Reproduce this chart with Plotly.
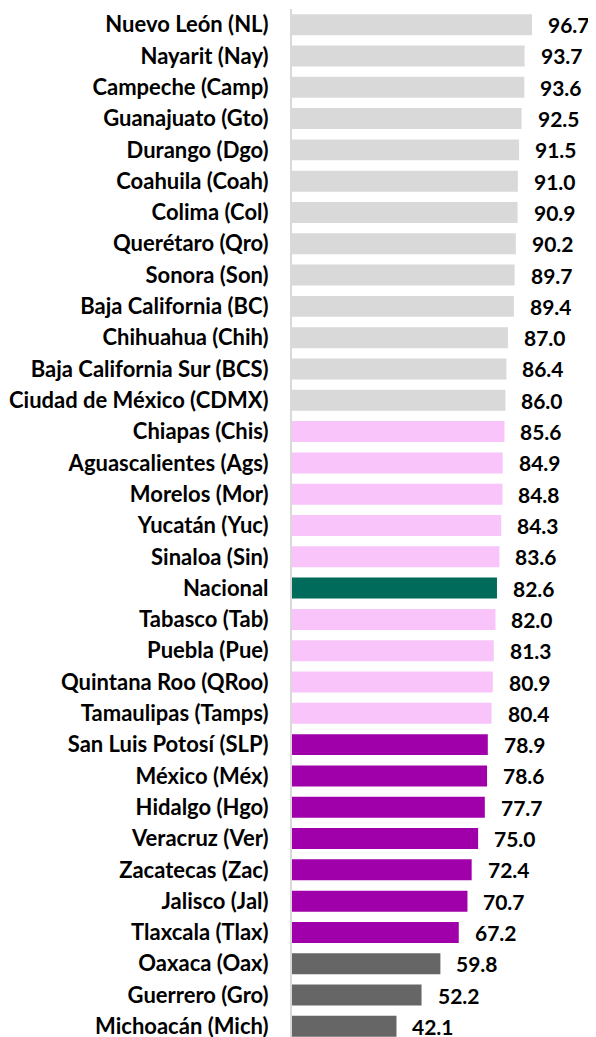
import plotly.graph_objects as go

states = [
    "Nuevo León (NL)", "Nayarit (Nay)", "Campeche (Camp)", "Guanajuato (Gto)",
    "Durango (Dgo)", "Coahuila (Coah)", "Colima (Col)", "Querétaro (Qro)",
    "Sonora (Son)", "Baja California (BC)", "Chihuahua (Chih)",
    "Baja California Sur (BCS)", "Ciudad de México (CDMX)", "Chiapas (Chis)",
    "Aguascalientes (Ags)", "Morelos (Mor)", "Yucatán (Yuc)", "Sinaloa (Sin)",
    "Nacional", "Tabasco (Tab)", "Puebla (Pue)", "Quintana Roo (QRoo)",
    "Tamaulipas (Tamps)", "San Luis Potosí (SLP)", "México (Méx)",
    "Hidalgo (Hgo)", "Veracruz (Ver)", "Zacatecas (Zac)", "Jalisco (Jal)",
    "Tlaxcala (Tlax)", "Oaxaca (Oax)", "Guerrero (Gro)", "Michoacán (Mich)",
]
values = [
    96.7, 93.7, 93.6, 92.5, 91.5, 91.0, 90.9, 90.2, 89.7, 89.4, 87.0, 86.4,
    86.0, 85.6, 84.9, 84.8, 84.3, 83.6, 82.6, 82.0, 81.3, 80.9, 80.4, 78.9,
    78.6, 77.7, 75.0, 72.4, 70.7, 67.2, 59.8, 52.2, 42.1,
]
groups = (["alto"] * 13 + ["medio_alto"] * 5 + ["nacional"] + ["medio_alto"] * 4
          + ["medio_bajo"] * 7 + ["bajo"] * 3)

palette = {
    "alto": "#D9D9D9",
    "medio_alto": "#F8C4F9",
    "nacional": "#006B5A",
    "medio_bajo": "#A000AA",
    "bajo": "#666666",
}
colors = [palette[g] for g in groups]

FONT = "Lato"

fig = go.Figure(go.Bar(
    x=values, y=states, orientation="h",
    marker=dict(color=colors, line=dict(width=0)),
    hoverinfo="x+y",
))

for s, v in zip(states, values):
    fig.add_annotation(
        x=v, y=s, text=f"<b>{v:.1f}</b>", showarrow=False,
        xanchor="left", yanchor="middle", xshift=14,
        font=dict(family=FONT, size=21, color="#000000"),
    )

n = len(states)
# the page body has an 8px default margin, so the figure is sized to fit
fig.update_layout(
    width=588, height=1029,
    margin=dict(l=284, r=0, t=1, b=0, autoexpand=False),
    paper_bgcolor="white", plot_bgcolor="white",
    bargap=0.33,
    showlegend=False,
    xaxis=dict(range=[0, 122.5], visible=False, fixedrange=True,
               automargin=False),
    yaxis=dict(
        type="category",
        range=[n - 0.66, -0.5],
        automargin=False,
        showline=True, linecolor="#D9D9D9", linewidth=2,
        showgrid=False, zeroline=False,
        ticks="", ticklabelstandoff=17,
        tickfont=dict(family=FONT, size=22, color="#000000", weight="bold"),
    ),
)

fig.write_html("out.html")
